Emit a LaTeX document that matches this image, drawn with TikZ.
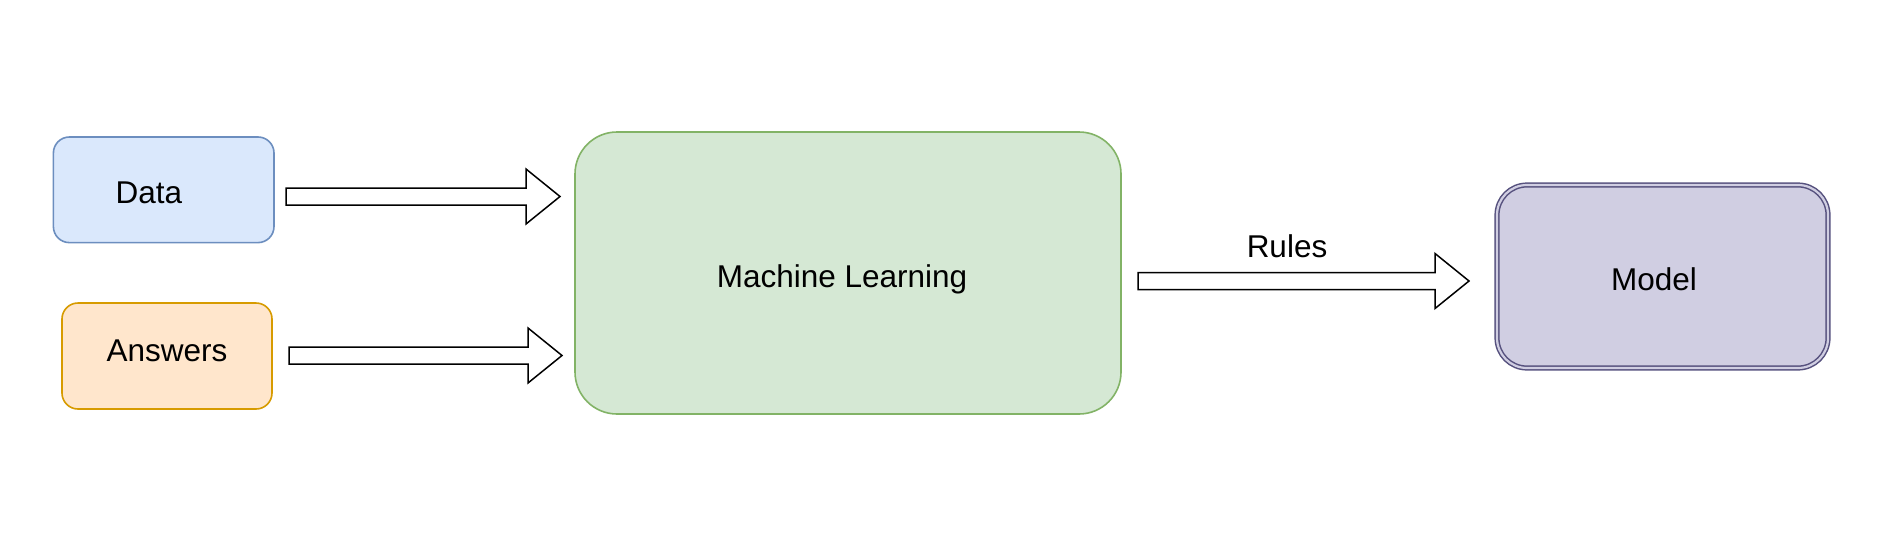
\documentclass[tikz,border=0pt]{standalone}
\usepackage{fontspec}
\setmainfont{Liberation Sans}
\usetikzlibrary{calc}
\definecolor{datafill}{HTML}{DAE8FC}
\definecolor{datadraw}{HTML}{6C8EBF}
\definecolor{ansfill}{HTML}{FFE6CC}
\definecolor{ansdraw}{HTML}{D79B00}
\definecolor{mlfill}{HTML}{D5E8D4}
\definecolor{mldraw}{HTML}{82B366}
\definecolor{modfill}{HTML}{D0CEE2}
\definecolor{moddraw}{HTML}{56517E}
\begin{document}
\begin{tikzpicture}[x=1pt,y=-1pt,
  box/.style={draw, line width=1.6pt, inner sep=0pt, rectangle},
  txt/.style={font=\fontsize{31.5}{38}\selectfont, text height=22.5pt, text depth=0pt, inner sep=0pt},
  blockarrow/.style={draw=black, fill=white, line width=1.5pt, line join=miter,
    to path={let \p1=(\tikztostart), \p2=(\tikztotarget) in
      (\x1,\y1+8.5pt) -- (\x2-34pt,\y1+8.5pt) -- (\x2-34pt,\y1+27.5pt) -- (\x2,\y1)
      -- (\x2-34pt,\y1-27.5pt) -- (\x2-34pt,\y1-8.5pt) -- (\x1,\y1-8.5pt) -- cycle}}]
\useasboundingbox[fill=white] (0,0) rectangle (1902,533);

\node[box, fill=datafill, draw=datadraw, minimum width=220.6pt, minimum height=105.6pt, rounded corners=16pt,
  label={[txt, name=datatxt, xshift=-14.7pt, yshift=-2.2pt]center:Data}] (data) at (163.7,189.8) {};
\node[box, fill=ansfill, draw=ansdraw, minimum width=210pt, minimum height=106pt, rounded corners=16pt,
  label={[txt, name=anstxt, yshift=5.5pt]center:Answers}] (answers) at (167,356) {};
\node[box, fill=mlfill, draw=mldraw, minimum width=546pt, minimum height=282pt, rounded corners=42pt,
  label={[txt, name=mltxt, xshift=-6pt, yshift=-3.5pt]center:Machine Learning}] (ml) at (848,273) {};
\node[box, fill=modfill, draw=moddraw, line width=1.5pt, double=modfill, double distance=2.2pt,
  minimum width=331pt, minimum height=183pt, rounded corners=30pt,
  label={[txt, name=modtxt, xshift=-8.5pt, yshift=-2.5pt]center:Model}] (model) at (1662.5,276.5) {};

\coordinate (d1) at (286,196.5);
\coordinate (d2) at (560,196.5);
\coordinate (a1) at (289,355.5);
\coordinate (a2) at (562,355.5);
\coordinate (r1) at (1138,281);
\coordinate (r2) at (1469,281);

\draw[blockarrow] (d1) to (d2);
\draw[blockarrow] (a1) to (a2);
\draw[blockarrow] (r1) to (r2);

\node[txt] (rules) at (1287,246.5) {Rules};
\end{tikzpicture}
\end{document}
